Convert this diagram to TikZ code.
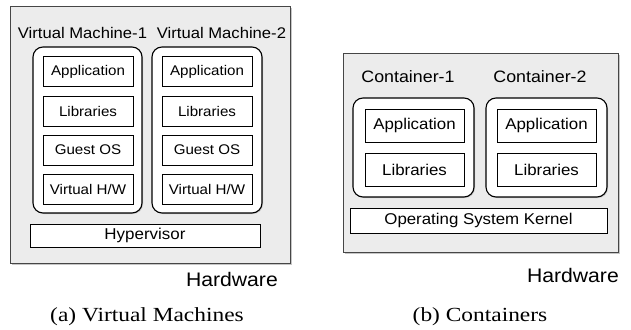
\documentclass[tikz,border=0pt]{standalone}
\usepackage{fontspec}
\setmainfont{Liberation Serif}
\setsansfont{Liberation Sans}
\newfontfamily\capfont[FakeStretch=1.17]{Liberation Serif}
\newfontfamily\dsans[FakeStretch=1.08]{Liberation Sans}
\usetikzlibrary{shadows}
\definecolor{hwgray}{RGB}{236,236,236}
\definecolor{edgegray}{RGB}{70,70,70}
\tikzset{
  hwbox/.style={draw=edgegray, line width=1pt, fill=hwgray, inner sep=0pt,
    drop shadow={shadow xshift=1.5pt, shadow yshift=-1.5pt, opacity=0.45}},
  vmbox/.style={draw=black, line width=1.1pt, fill=white, rounded corners=10pt, inner sep=0pt,
    drop shadow={shadow xshift=1pt, shadow yshift=-1pt, opacity=0.35}},
  layer/.style={draw=black, line width=0.8pt, fill=white, inner sep=0pt, font=\dsans\fontsize{14}{14}\selectfont},
  clayer/.style={draw=black, line width=0.8pt, fill=white, inner sep=0pt, font=\dsans\fontsize{15.6}{15.6}\selectfont},
  lbl/.style={inner sep=0pt, font=\dsans\fontsize{15.4}{15.4}\selectfont},
  clbl/.style={inner sep=0pt, font=\dsans\fontsize{16.5}{16.5}\selectfont},
  hwlbl/.style={inner sep=0pt, anchor=east, font=\dsans\fontsize{19.6}{19.6}\selectfont},
  captext/.style={inner sep=0pt, anchor=base, font=\capfont\fontsize{20}{20}\selectfont}
}
\begin{document}
\begin{tikzpicture}[x=1pt,y=-1pt]
\useasboundingbox (0,0) rectangle (631,329);
% ---------- (a) Virtual machines ----------
\node[hwbox, minimum width=280pt, minimum height=256pt] (hwA) at (150,135) {};
\node[lbl] (vm1l) at (82.5,33) {Virtual Machine-1};
\node[lbl] (vm2l) at (221.5,33) {Virtual Machine-2};
\node[vmbox, minimum width=109pt, minimum height=166pt] (vm1) at (87.5,130) {};
\node[vmbox, minimum width=110pt, minimum height=166pt] (vm2) at (207,130) {};
\foreach \n/\x in {a/88, b/207}{
  \node[layer, minimum width=90pt, minimum height=30pt] (app\n) at (\x,71.5) {Application};
  \node[layer, minimum width=90pt, minimum height=30pt] (lib\n) at (\x,111) {Libraries};
  \node[layer, minimum width=90pt, minimum height=30pt] (os\n) at (\x,150) {Guest OS};
  \node[layer, minimum width=90pt, minimum height=30pt] (hw\n) at (\x,189) {Virtual H/W};
}
\node[layer, font=\dsans\fontsize{15.7}{15.7}\selectfont, minimum width=230pt, minimum height=23pt] (hyp) at (145,235.5) {Hypervisor};
\node[hwlbl] (hwAl) at (278,279) {Hardware};
\node[captext] (capA) at (147,321) {(a) Virtual Machines};
% ---------- (b) Containers ----------
\node[hwbox, minimum width=275pt, minimum height=198pt] (hwB) at (480.5,153) {};
\node[clbl] (c1l) at (408,77) {Container-1};
\node[clbl] (c2l) at (540,77) {Container-2};
\node[vmbox, minimum width=121pt, minimum height=99pt] (c1) at (413.5,147.5) {};
\node[vmbox, minimum width=121pt, minimum height=99pt] (c2) at (546.5,147.5) {};
\foreach \n/\x in {a/414.5, b/546.5}{
  \node[clayer, minimum width=99pt, minimum height=33pt] (capp\n) at (\x,125.5) {Application};
  \node[clayer, minimum width=99pt, minimum height=33pt] (clib\n) at (\x,169.5) {Libraries};
}
\node[clayer, minimum width=257pt, minimum height=25pt] (kern) at (478.5,220.5) {Operating System Kernel};
\node[hwlbl] (hwBl) at (619,275) {Hardware};
\node[captext] (capB) at (480,321) {(b) Containers};
\end{tikzpicture}
\end{document}
